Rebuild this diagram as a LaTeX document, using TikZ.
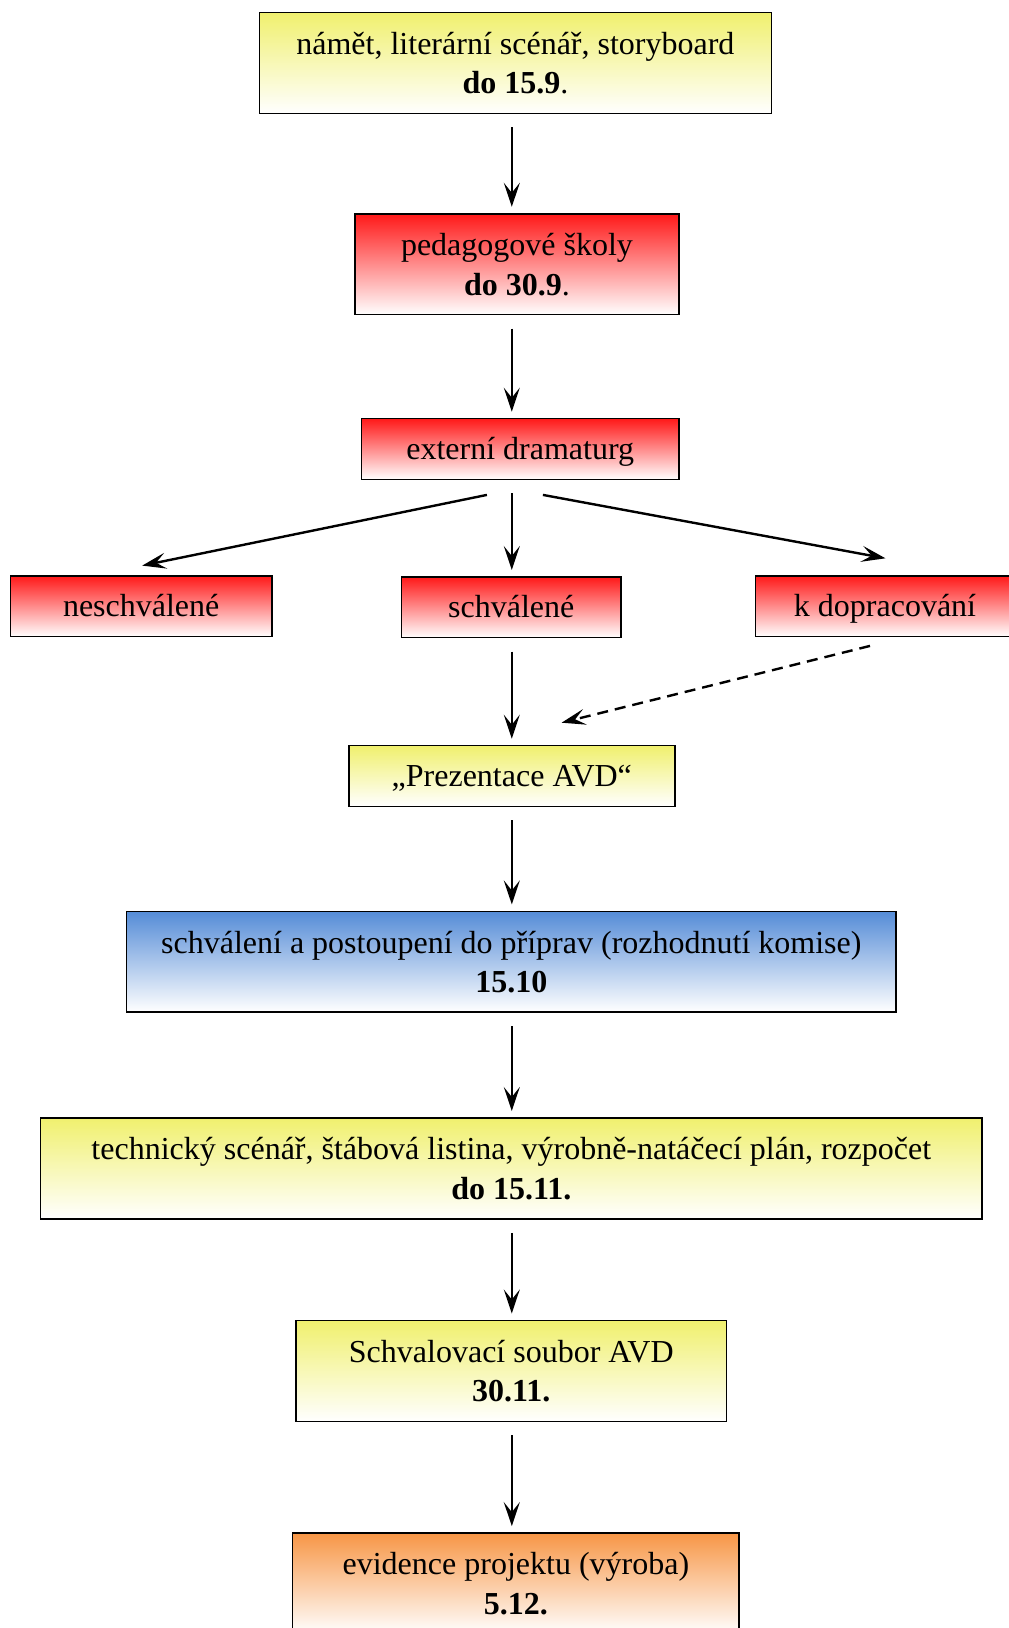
\documentclass[tikz,border=0pt]{standalone}
\usepackage{fontspec}
\setmainfont{Liberation Serif}
\usetikzlibrary{arrows.meta, calc}
\definecolor{boxyellow}{RGB}{240,240,110}
\definecolor{boxred}{RGB}{255,25,25}
\definecolor{boxblue}{RGB}{85,140,215}
\definecolor{boxorange}{RGB}{247,150,70}
\begin{document}
\begin{tikzpicture}[x=0.5pt, y=-0.5pt,
  box/.style={draw=black, line width=0.75pt, inner sep=0pt, outer sep=0pt,
    align=center, font=\fontsize{16}{19.75}\selectfont, bottom color=white},
  yellowbox/.style={box, top color=boxyellow},
  redbox/.style={box, top color=boxred},
  bluebox/.style={box, top color=boxblue},
  orangebox/.style={box, top color=boxorange},
  tall/.style={minimum height=50.4pt, text depth=0pt},
  low/.style={minimum height=30.3pt, text height=14pt, text depth=4pt},
  flow/.style={line width=1.2pt, -{Stealth[length=12pt, width=8pt, inset=5pt]}},
  vflow/.style={flow, shorten <=7pt, shorten >=3.5pt}]
\useasboundingbox (0,0) rectangle (1008,1628);
\coordinate (axis) at (511.8,0);
\node[yellowbox, tall, minimum width=255.9pt] at (515.4,62.9) (namet)
  {námět, literární scénář, storyboard\\\textbf{do 15.9}.};
\node[redbox, tall, minimum width=162pt] at (517,264.2) (ped)
  {pedagogové školy\\\textbf{do 30.9}.};
\node[redbox, low, minimum width=158.9pt] at (520.2,449) (ext)
  {externí dramaturg};
\node[redbox, low, minimum width=130.8pt] at (141.2,606.3) (nesch)
  {neschválené};
\node[redbox, low, minimum width=109.6pt] at (511.3,607.3) (schv)
  {schválené};
\node[redbox, low, minimum width=129.3pt] at (885,606.3) (kdop)
  {k dopracování};
\node[yellowbox, low, minimum width=163pt] at (511.8,776) (prez)
  {„Prezentace AVD“};
\node[bluebox, tall, minimum width=384.7pt] at (511.3,961.8) (komise)
  {schválení a postoupení do příprav (rozhodnutí komise)\\\textbf{15.10}};
\node[yellowbox, tall, minimum width=470.8pt] at (511.3,1168.4) (tech)
  {technický scénář, štábová listina, výrobně-natáčecí plán, rozpočet\\\textbf{do 15.11.}};
\node[yellowbox, tall, minimum width=215.4pt] at (511.3,1370.9) (schval)
  {Schvalovací soubor AVD\\\textbf{30.11.}};
\node[orangebox, tall, minimum width=223.2pt] at (515.9,1583.5) (evid)
  {evidence projektu (výroba)\\\textbf{5.12.}};
\draw[vflow] (namet.south -| axis) -- (ped.north -| axis);
\draw[vflow] (ped.south -| axis) -- (ext.north -| axis);
\draw[flow] ($(ext.south)+(-33.3,15.6)$) -- ($(nesch.north)+(1,-10.4)$);
\draw[vflow] (ext.south -| axis) -- (schv.north -| axis);
\draw[flow] ($(ext.south)+(22.7,15.6)$) -- ($(kdop.north)+(0.5,-17.7)$);
\draw[vflow] (schv.south -| axis) -- (prez.north -| axis);
\draw[flow, dash pattern=on 5.5pt off 3.5pt] ($(kdop.south)+(-15,9.3)$) -- ($(prez.north)+(49.8,-23)$);
\draw[vflow] (prez.south -| axis) -- (komise.north -| axis);
\draw[vflow] (komise.south -| axis) -- (tech.north -| axis);
\draw[vflow] (tech.south -| axis) -- (schval.north -| axis);
\draw[vflow] (schval.south -| axis) -- (evid.north -| axis);
\end{tikzpicture}
\end{document}
